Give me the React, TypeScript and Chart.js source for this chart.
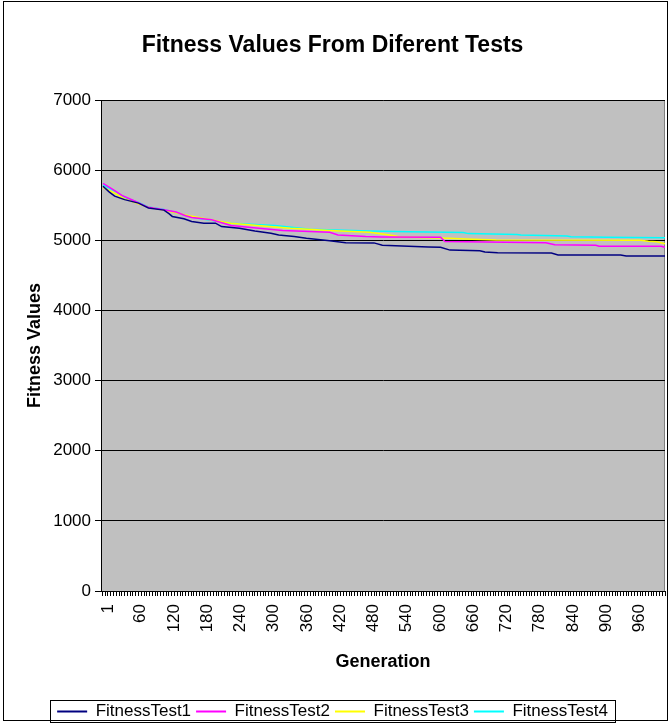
import React, { useEffect, useRef } from 'react';
import { Chart, registerables } from 'chart.js';

Chart.register(...registerables);

const chartTitle = 'Fitness Values From Diferent Tests';
const xAxisTitle = 'Generation';
const yAxisTitle = 'Fitness Values';

const seriesNames = ['FitnessTest1', 'FitnessTest2', 'FitnessTest3', 'FitnessTest4'];
const seriesColors = ['#000080', '#FF00FF', '#FFFF00', '#00FFFF'];

const test1Gen = [1, 12, 22, 40, 65, 83, 111, 120, 126, 147, 161, 183, 204, 215, 247, 275, 304, 318, 346, 368, 410, 439, 490, 505, 588, 610, 627, 681, 690, 713, 810, 822, 935, 945, 1015];
const test1Val = [5770, 5690, 5630, 5580, 5530, 5460, 5430, 5380, 5340, 5306, 5268, 5244, 5244, 5196, 5172, 5134, 5100, 5076, 5053, 5029, 4995, 4966, 4963, 4930, 4905, 4900, 4860, 4852, 4833, 4822, 4818, 4792, 4790, 4776, 4776];

const test2Gen = [1, 20, 35, 55, 83, 111, 133, 150, 161, 197, 232, 282, 325, 410, 425, 475, 503, 610, 618, 800, 816, 890, 896, 1008, 1015];
const test2Val = [5810, 5720, 5640, 5570, 5470, 5435, 5402, 5350, 5325, 5292, 5210, 5172, 5139, 5115, 5076, 5053, 5048, 5045, 4981, 4966, 4935, 4930, 4914, 4914, 4899];

const test3Gen = [1, 25, 40, 65, 83, 110, 154, 190, 232, 339, 410, 482, 505, 524, 537, 624, 667, 710, 970, 985, 1000, 1015];
const test3Val = [5750, 5660, 5590, 5520, 5470, 5430, 5354, 5300, 5244, 5172, 5140, 5115, 5090, 5067, 5048, 5030, 5015, 5005, 5000, 4985, 4980, 4950];

const test4Gen = [1, 22, 40, 65, 83, 111, 168, 232, 311, 375, 482, 553, 651, 660, 748, 755, 838, 845, 910, 1015];
const test4Val = [5790, 5700, 5610, 5540, 5475, 5440, 5316, 5244, 5210, 5158, 5134, 5120, 5110, 5095, 5081, 5076, 5062, 5050, 5043, 5035];

const xTickLabels = [1, 60, 120, 180, 240, 300, 360, 420, 480, 540, 600, 660, 720, 780, 840, 900, 960];
const xMin = -2.6;
const xMax = 1015;
const minorTickStep = 5;
const yMin = 0;
const yMax = 7000;
const yStep = 1000;

const FONT = "'Liberation Sans', Arial, Helvetica, sans-serif";

const seriesGens = [test1Gen, test2Gen, test3Gen, test4Gen];
const seriesVals = [test1Val, test2Val, test3Val, test4Val];

const framePlugin = {
  id: 'framePlugin',
  beforeDraw(chart: any) {
    const { ctx, chartArea } = chart;
    ctx.save();
    ctx.fillStyle = '#FFFFFF';
    ctx.fillRect(0, 0, chart.width, chart.height);
    ctx.fillStyle = '#C0C0C0';
    ctx.fillRect(chartArea.left, chartArea.top, chartArea.right - chartArea.left, chartArea.bottom - chartArea.top);
    ctx.strokeStyle = '#808080';
    ctx.lineWidth = 1;
    ctx.strokeRect(chartArea.left + 0.5, chartArea.top + 0.5, chartArea.right - chartArea.left - 1, chartArea.bottom - chartArea.top);
    ctx.restore();
  },
  afterDraw(chart: any) {
    const { ctx } = chart;
    ctx.save();
    ctx.strokeStyle = '#000000';
    ctx.lineWidth = 1;
    ctx.strokeRect(3.5, 1.5, 664, 719);
    const boxes = chart.legend && chart.legend.legendHitBoxes;
    if (boxes && boxes.length) {
      let l = Infinity, r = -Infinity, t = Infinity, b = -Infinity;
      boxes.forEach((hb: any) => {
        l = Math.min(l, hb.left);
        r = Math.max(r, hb.left + hb.width);
        t = Math.min(t, hb.top);
        b = Math.max(b, hb.top + hb.height);
      });
      ctx.strokeRect(Math.round(l - 7) + 0.5, Math.round(t - 3) + 0.5, Math.round(r - l + 14), Math.round(b - t + 5));
    }
    ctx.restore();
  },
};

export default function App() {
  const ref = useRef<HTMLCanvasElement | null>(null);

  useEffect(() => {
    if (!ref.current) return;
    Chart.defaults.font.family = FONT;
    Chart.defaults.color = '#000000';

    const datasets = seriesNames.map((name, i) => ({
      label: name,
      data: seriesGens[i].map((g, j) => ({ x: g, y: seriesVals[i][j] })),
      borderColor: seriesColors[i],
      backgroundColor: seriesColors[i],
      borderWidth: 1.5,
      pointRadius: 0,
      tension: 0,
      fill: false,
    }));

    const chart = new Chart(ref.current, {
      type: 'line',
      data: { datasets },
      plugins: [framePlugin],
      options: {
        responsive: false,
        animation: false,
        devicePixelRatio: 1,
        layout: { padding: { left: 0, right: 5, top: 0, bottom: -7 } },
        plugins: {
          title: {
            display: true,
            text: chartTitle,
            color: '#000000',
            font: { size: 23, weight: 'bold', family: FONT },
            padding: { top: 32.2, bottom: 40.2 },
          },
          legend: {
            display: true,
            position: 'bottom',
            labels: {
              boxWidth: 30,
              boxHeight: 2,
              padding: 5,
              color: '#000000',
              font: { size: 17, family: FONT },
              generateLabels: (c: any) =>
                c.data.datasets.map((ds: any, i: number) => ({
                  text: ds.label,
                  fillStyle: seriesColors[i],
                  strokeStyle: seriesColors[i],
                  lineWidth: 0,
                  hidden: false,
                  datasetIndex: i,
                  fontColor: '#000000',
                })),
            },
          },
          tooltip: { enabled: false },
        },
        scales: {
          x: {
            type: 'linear',
            min: xMin,
            max: xMax,
            afterBuildTicks: (scale: any) => {
              const vals = new Set<number>(xTickLabels);
              for (let g = minorTickStep; g <= xMax; g += minorTickStep) vals.add(g);
              scale.ticks = Array.from(vals)
                .sort((a, b) => a - b)
                .map((v) => ({ value: v }));
            },
            afterFit: (scale: any) => {
              scale.height = 107;
              scale.paddingLeft = 0;
              scale.paddingRight = 0;
            },
            ticks: {
              autoSkip: false,
              minRotation: 90,
              maxRotation: 90,
              padding: 8,
              labelOffset: 5,
              color: '#000000',
              font: { size: 17, family: FONT },
              callback: (value: any) => (xTickLabels.includes(Number(value)) ? String(value) : ''),
            },
            grid: {
              display: true,
              drawOnChartArea: false,
              drawTicks: true,
              tickLength: 5,
              color: '#000000',
              lineWidth: 1,
            },
            border: { display: true, color: '#000000', width: 1 },
            title: {
              display: true,
              text: xAxisTitle,
              color: '#000000',
              font: { size: 18, weight: 'bold', family: FONT },
              padding: { top: 0, bottom: 25.2 },
            },
          },
          y: {
            type: 'linear',
            min: yMin,
            max: yMax,
            afterFit: (scale: any) => {
              scale.width = 101;
              scale.paddingTop = 0;
              scale.paddingBottom = 0;
            },
            ticks: {
              stepSize: yStep,
              padding: 4,
              color: '#000000',
              font: { size: 17, family: FONT },
              callback: (value: any) => String(value),
            },
            grid: {
              display: true,
              drawOnChartArea: true,
              drawTicks: true,
              tickLength: 6,
              color: '#000000',
              lineWidth: 1,
            },
            border: { display: true, color: '#000000', width: 1 },
            title: {
              display: true,
              text: yAxisTitle,
              color: '#000000',
              font: { size: 18, weight: 'bold', family: FONT },
              padding: { top: 24.2, bottom: 0 },
            },
          },
        },
      },
    } as any);

    return () => chart.destroy();
  }, []);

  return (
    <div style={{ position: 'fixed', left: 0, top: 0, width: 670, height: 723, background: '#FFFFFF' }}>
      <canvas ref={ref} width={670} height={723} style={{ width: 670, height: 723, display: 'block' }} />
    </div>
  );
}
